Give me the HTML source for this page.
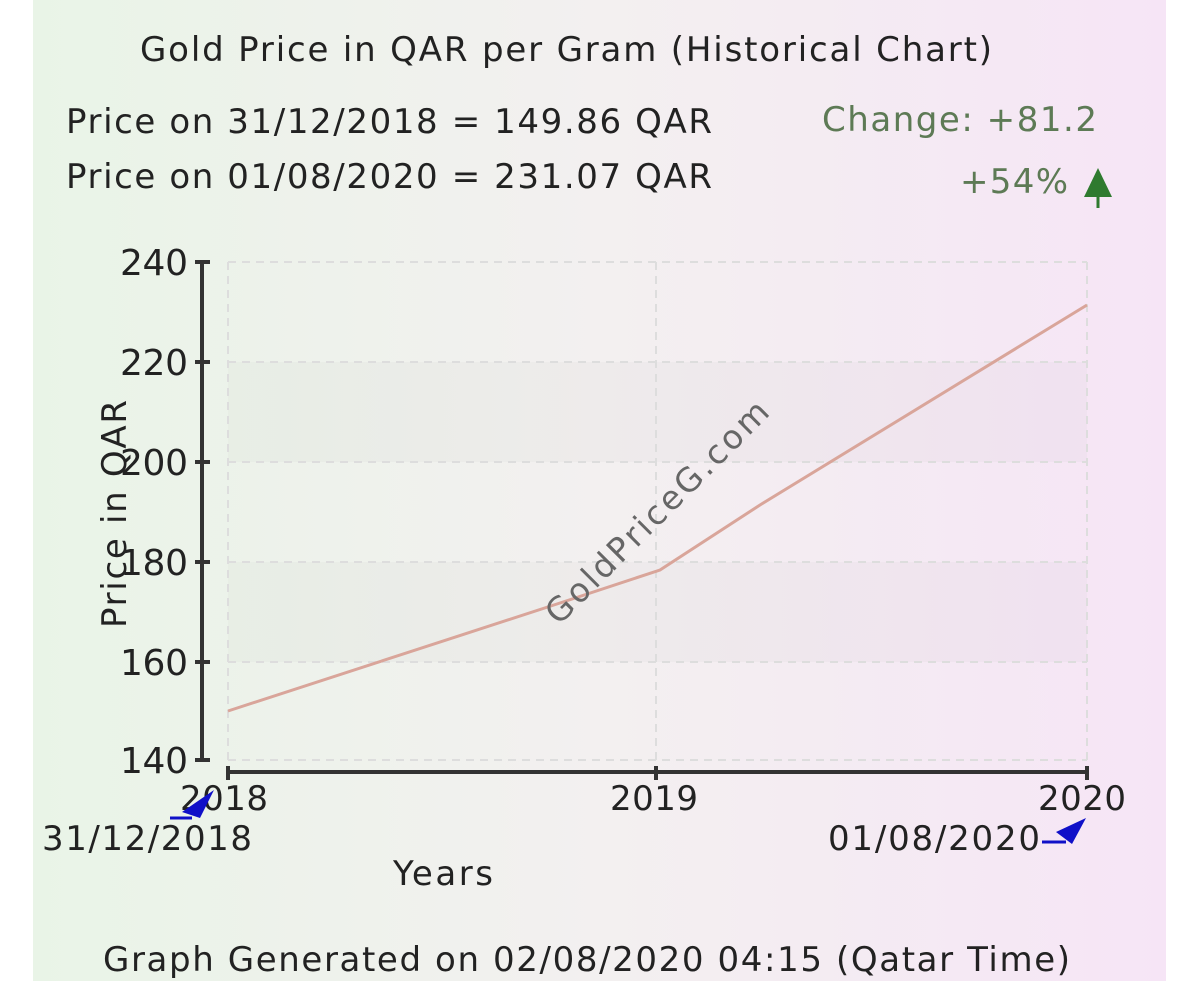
<!DOCTYPE html>
<html><head><style>
body{margin:0;width:1200px;height:981px;background:#fff;overflow:hidden;font-family:"DejaVu Sans",Verdana,sans-serif}
svg{position:absolute;left:0;top:0}
</style></head><body>
<svg width="1200" height="981" viewBox="0 0 1200 981">
<defs>
<linearGradient id="bg" x1="0" x2="1" y1="0" y2="0">
<stop offset="0" stop-color="#e9f4e7"/><stop offset="0.5" stop-color="#f3f0f0"/><stop offset="1" stop-color="#f6e5f6"/>
</linearGradient>
</defs>
<rect x="33" y="0" width="1133" height="981" fill="url(#bg)"/>
<rect x="228" y="362" width="859" height="100" fill="#000" opacity="0.02"/>
<rect x="228" y="562" width="859" height="100" fill="#000" opacity="0.02"/>
<g stroke="#ddd" stroke-dasharray="8,6" stroke-width="2" fill="none">
<line x1="228" y1="262" x2="1087" y2="262"/><line x1="228" y1="362" x2="1087" y2="362"/>
<line x1="228" y1="462" x2="1087" y2="462"/><line x1="228" y1="562" x2="1087" y2="562"/>
<line x1="228" y1="662" x2="1087" y2="662"/><line x1="228" y1="760" x2="1087" y2="760"/>
<line x1="228" y1="262" x2="228" y2="772"/><line x1="656" y1="262" x2="656" y2="772"/><line x1="1087" y1="262" x2="1087" y2="772"/>
</g>
<g stroke="#333" stroke-width="4">
<line x1="202" y1="262" x2="202" y2="760"/>
<line x1="228" y1="772" x2="1087" y2="772"/>
<line x1="195" y1="262" x2="210" y2="262"/><line x1="195" y1="362" x2="210" y2="362"/>
<line x1="195" y1="462" x2="210" y2="462"/><line x1="195" y1="562" x2="210" y2="562"/>
<line x1="195" y1="662" x2="210" y2="662"/><line x1="195" y1="760" x2="210" y2="760"/>
<line x1="228" y1="766" x2="228" y2="780"/><line x1="656" y1="766" x2="656" y2="780"/><line x1="1087" y1="766" x2="1087" y2="780"/>
</g>
<polyline points="228,711 560,603 660,570 760,505 1087,305" fill="none" stroke="#d9a59a" stroke-width="3"/>
<text x="665" y="520" transform="rotate(-45 665 520)" text-anchor="middle" font-size="33" textLength="300" fill="#666">GoldPriceG.com</text>
<g font-size="34" fill="#222">
<text x="140" y="61" textLength="852">Gold Price in QAR per Gram (Historical Chart)</text>
<text x="66" y="133" textLength="646">Price on 31/12/2018 = 149.86 QAR</text>
<text x="66" y="188" textLength="646">Price on 01/08/2020 = 231.07 QAR</text>
<text x="822" y="131" textLength="275" fill="#5d7a55">Change: +81.2</text>
<text x="960" y="193" textLength="108" fill="#5d7a55">+54%</text>
</g>
<polygon points="1098,168 1084,197 1112,197" fill="#2f7a2f"/>
<line x1="1098" y1="197" x2="1098" y2="208" stroke="#2f7a2f" stroke-width="3"/>
<g font-size="36" fill="#222">
<text x="120" y="275" textLength="68">240</text><text x="120" y="375" textLength="68">220</text><text x="120" y="475" textLength="68">200</text>
<text x="120" y="575" textLength="68">180</text><text x="120" y="675" textLength="68">160</text><text x="120" y="773" textLength="68">140</text>
</g>
<text x="126" y="514" transform="rotate(-90 126 514)" text-anchor="middle" font-size="34" textLength="228" fill="#222">Price in QAR</text>
<g font-size="34" fill="#222">
<text x="180" y="810" textLength="88">2018</text><text x="610" y="810" textLength="88">2019</text><text x="1038" y="810" textLength="88">2020</text>
<text x="42" y="850" textLength="210">31/12/2018</text><text x="828" y="850" textLength="212">01/08/2020</text>
<text x="393" y="885" textLength="100">Years</text>
<text x="103" y="971" textLength="967">Graph Generated on 02/08/2020 04:15 (Qatar Time)</text>
</g>
<polygon points="182,812 214,790 200,818" fill="#1010c8"/>
<line x1="170" y1="818" x2="192" y2="818" stroke="#1010c8" stroke-width="3"/>
<polygon points="1086,818 1056,832 1072,844" fill="#1010c8"/>
<line x1="1042" y1="842" x2="1066" y2="842" stroke="#1010c8" stroke-width="3"/>
</svg>
</body></html>
